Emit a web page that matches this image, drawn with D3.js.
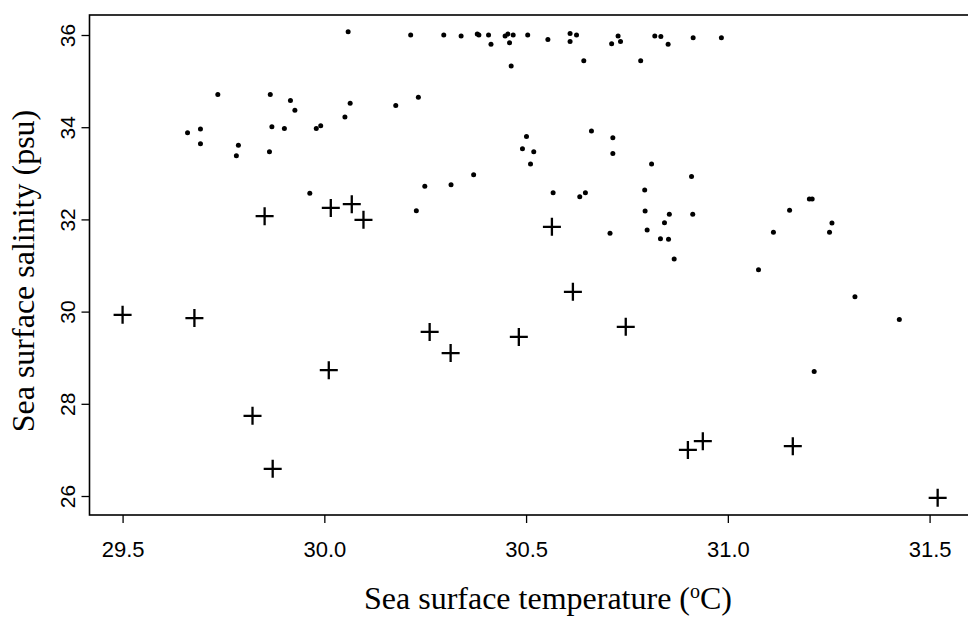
<!DOCTYPE html>
<html>
<head>
<meta charset="utf-8">
<script src="https://cdn.jsdelivr.net/npm/d3@7"></script>
<style>
  html, body { margin: 0; padding: 0; background: #fff; }
  svg { display: block; }
</style>
</head>
<body>
<svg id="chart" width="968" height="625"></svg>
<script>
// ---- Data ----
// Series 1: small dots (temperature °C, salinity psu)
const dotTemp = [
  30.059, 30.214, 30.296, 30.339, 30.379, 30.383, 30.407, 30.413, 30.448, 30.455,
  30.468, 30.459, 30.463, 30.504, 30.554, 30.609, 30.609, 30.625, 30.643, 30.712,
  30.728, 30.734, 30.784, 30.819, 30.834, 30.852, 30.914, 30.984,
  29.736, 29.866, 29.916, 29.927, 30.064, 30.051, 30.177, 30.233, 29.661, 29.693,
  29.693, 29.787, 29.782, 29.870, 29.864, 29.901, 29.980, 29.991, 29.964, 30.249,
  30.314, 30.370, 30.228,
  30.501, 30.491, 30.519, 30.511, 30.662, 30.715, 30.715, 30.811, 30.910, 30.567,
  30.633, 30.647, 30.794, 30.795, 30.855, 30.913, 30.843, 30.800, 30.708, 30.833,
  30.853, 30.867, 31.076, 31.113, 31.153, 31.202, 31.209, 31.258, 31.252, 31.315,
  31.425, 31.214
];
const dotSal = [
  36.07, 36.00, 36.00, 35.98, 36.02, 36.00, 36.00, 35.80, 35.98, 36.02,
  36.00, 35.83, 35.33, 36.00, 35.90, 36.03, 35.86, 36.00, 35.44, 35.81,
  35.98, 35.86, 35.44, 35.98, 35.97, 35.80, 35.94, 35.94,
  34.71, 34.71, 34.58, 34.37, 34.52, 34.22, 34.47, 34.65, 33.88, 33.96,
  33.64, 33.61, 33.38, 34.01, 33.47, 33.97, 33.97, 34.03, 32.57, 32.72,
  32.75, 32.97, 32.19,
  33.80, 33.53, 33.47, 33.20, 33.92, 33.77, 33.43, 33.20, 32.93, 32.58,
  32.49, 32.58, 32.64, 32.18, 32.11, 32.11, 31.93, 31.77, 31.70, 31.58,
  31.57, 31.14, 30.91, 31.72, 32.20, 32.44, 32.44, 31.92, 31.72, 30.32,
  29.83, 28.70
];

// Series 2: plus markers
const plusTemp = [
  29.500, 29.678, 29.852, 30.016, 30.068, 30.097, 29.822, 29.872, 30.011, 30.261,
  30.313, 30.482, 30.564, 30.616, 30.747, 30.901, 30.938, 31.161, 31.520
];
const plusSal = [
  29.93, 29.86, 32.07, 32.25, 32.33, 31.99, 27.74, 26.59, 28.73, 29.56,
  29.10, 29.45, 31.84, 30.43, 29.67, 27.00, 27.19, 27.08, 25.96
];

// Axis ticks and titles
const xTicks = [29.5, 30.0, 30.5, 31.0, 31.5];
const yTicks = [26, 28, 30, 32, 34, 36];
const xDomain = [29.418, 31.62];
const yDomain = [25.588, 36.434];
const xTitle = "Sea surface temperature (";
const yTitle = "Sea surface salinity (psu)";

// ---- Layout ----
const svg = d3.select("#chart");
const mLeft = 89.5, mTop = 15, mBottom = 515;
const pxPerDeg = 403.5;
const mRight = mLeft + pxPerDeg * (xDomain[1] - xDomain[0]);

const x = d3.scaleLinear().domain(xDomain).range([mLeft, mRight]);
const y = d3.scaleLinear().domain(yDomain).range([mBottom, mTop]);

const sansFont = "'Liberation Sans', Arial, sans-serif";
const serifFont = "'Liberation Serif', 'Times New Roman', serif";

// Frame (top, left, bottom; right edge falls outside the picture)
svg.append("rect")
  .attr("x", mLeft).attr("y", mTop)
  .attr("width", mRight - mLeft).attr("height", mBottom - mTop)
  .attr("fill", "none").attr("stroke", "#000").attr("stroke-width", 1.6);

// X axis
const xAxis = d3.axisBottom(x).tickValues(xTicks).tickFormat(d3.format(".1f"))
  .tickSize(8).tickPadding(18);
const gx = svg.append("g").attr("transform", `translate(0,${mBottom})`).call(xAxis);
gx.select(".domain").remove();
gx.selectAll("line").attr("stroke", "#000").attr("stroke-width", 1.3);
gx.selectAll("text").attr("font-family", sansFont).attr("font-size", 22).attr("fill", "#000");

// Y axis
const yAxis = d3.axisLeft(y).tickValues(yTicks).tickFormat(d3.format("d")).tickSize(8);
const gy = svg.append("g").attr("transform", `translate(${mLeft},0)`).call(yAxis);
gy.select(".domain").remove();
gy.selectAll("line").attr("stroke", "#000").attr("stroke-width", 1.3);
gy.selectAll("text")
  .attr("font-family", sansFont).attr("font-size", 21).attr("fill", "#000")
  .attr("x", 0).attr("y", -15).attr("dy", 0)
  .attr("text-anchor", "middle")
  .attr("transform", "rotate(-90)");

// Dots
svg.append("g").selectAll("circle")
  .data(dotTemp.map((t, i) => [t, dotSal[i]]))
  .join("circle")
  .attr("cx", d => x(d[0])).attr("cy", d => y(d[1]))
  .attr("r", 2.5).attr("fill", "#000");

// Plus markers
svg.append("g").selectAll("path")
  .data(plusTemp.map((t, i) => [t, plusSal[i]]))
  .join("path")
  .attr("transform", d => `translate(${x(d[0])},${y(d[1])})`)
  .attr("d", "M-9,0H9M0,-9V9")
  .attr("stroke", "#000").attr("stroke-width", 2.3).attr("fill", "none");

// Axis titles
const xt = svg.append("text")
  .attr("x", 548).attr("y", 609)
  .attr("text-anchor", "middle")
  .attr("font-family", serifFont).attr("font-size", 32).attr("fill", "#000")
  .text(xTitle);
xt.append("tspan").attr("baseline-shift", "super").attr("font-size", 20).text("o");
xt.append("tspan").text("C)");

svg.append("text")
  .attr("transform", `translate(34,271) rotate(-90)`)
  .attr("text-anchor", "middle")
  .attr("font-family", serifFont).attr("font-size", 32).attr("fill", "#000")
  .text(yTitle);
</script>
</body>
</html>
